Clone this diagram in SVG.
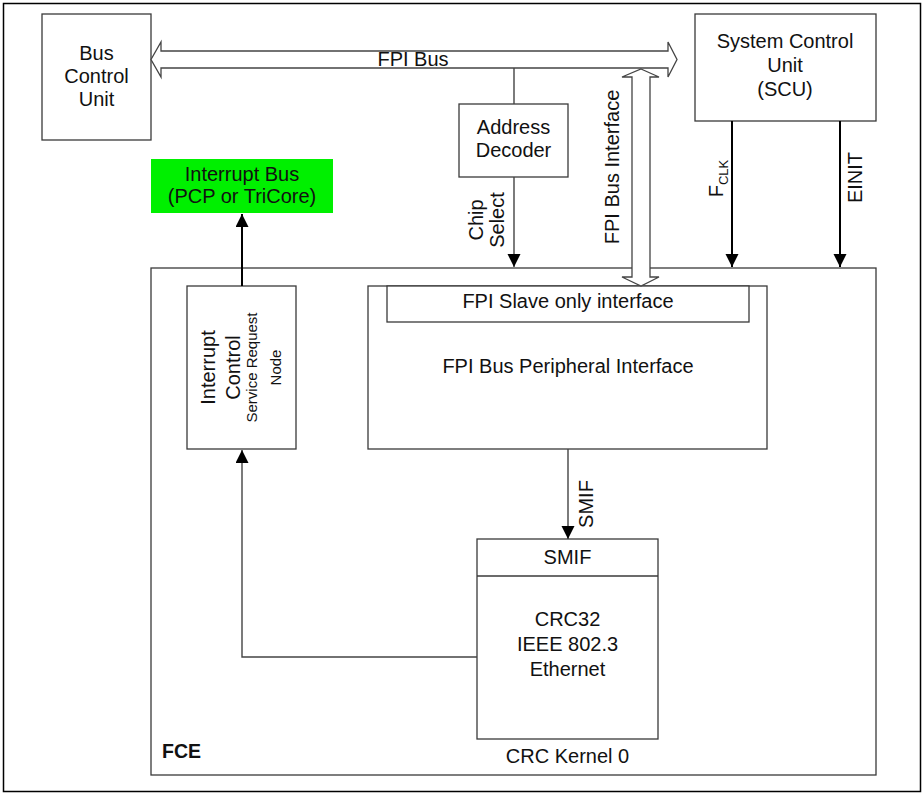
<svg xmlns="http://www.w3.org/2000/svg" width="924" height="795" viewBox="0 0 924 795">
<style>
  text { font-family: "Liberation Sans", Arial, sans-serif; font-size: 20px; fill: #111; }
  .mid { text-anchor: middle; }
  .small { font-size: 15px; }
  .box { fill: #fff; stroke: #3a3a3a; stroke-width: 1.3; }
  .wire { fill: none; stroke: #444; stroke-width: 1.4; }
  .sig { fill: none; stroke: #000; stroke-width: 2; }
  .bus { fill: #fff; stroke: #444; stroke-width: 1.3; stroke-linejoin: miter; }
</style>
<defs>
  <marker id="ah" markerUnits="userSpaceOnUse" markerWidth="14" markerHeight="14" refX="13" refY="6.5" orient="auto">
    <path d="M0,0 L13,6.5 L0,13 z" fill="#000"/>
  </marker>
</defs>
<rect x="3.5" y="3.5" width="917" height="788" fill="#fff" stroke="#000" stroke-width="1.5"/>

<g id="fce">
  <rect class="box" x="151" y="268" width="725" height="507"/>
  <text x="162" y="758" style="font-weight:bold;font-size:19.5px">FCE</text>
</g>

<g id="bcu">
  <rect class="box" x="42" y="14" width="109" height="126"/>
  <text class="mid" x="96.5" y="60">Bus</text>
  <text class="mid" x="96.5" y="83">Control</text>
  <text class="mid" x="96.5" y="106">Unit</text>
</g>

<g id="scu">
  <rect class="box" x="695" y="14" width="181" height="107"/>
  <text class="mid" x="785" y="48">System Control</text>
  <text class="mid" x="785" y="72">Unit</text>
  <text class="mid" x="785" y="96">(SCU)</text>
</g>

<g id="addr">
  <rect class="box" x="459" y="104" width="109" height="73"/>
  <text class="mid" x="513.5" y="134">Address</text>
  <text class="mid" x="513.5" y="157">Decoder</text>
</g>

<g id="intbus">
  <rect x="151" y="159" width="182" height="54" fill="#00f000"/>
  <text class="mid" x="242" y="181">Interrupt Bus</text>
  <text class="mid" x="242" y="203">(PCP or TriCore)</text>
</g>

<g id="intctrl">
  <rect class="box" x="187" y="286" width="109" height="163"/>
  <text class="mid" transform="translate(215,367.5) rotate(-90)">Interrupt</text>
  <text class="mid" transform="translate(240,367.5) rotate(-90)">Control</text>
  <text class="mid small" transform="translate(257,367.5) rotate(-90)">Service Request</text>
  <text class="mid small" transform="translate(281,367.5) rotate(-90)">Node</text>
</g>

<g id="fpiperiph">
  <rect class="box" x="368" y="286" width="399" height="163"/>
  <rect class="box" x="387" y="286" width="362" height="36"/>
  <text class="mid" x="568" y="308">FPI Slave only interface</text>
  <text class="mid" x="568" y="373">FPI Bus Peripheral Interface</text>
</g>

<g id="crc">
  <rect class="box" x="477" y="539" width="181" height="200"/>
  <line x1="477" y1="576" x2="658" y2="576" stroke="#3a3a3a" stroke-width="1.3"/>
  <text class="mid" x="567.5" y="564">SMIF</text>
  <text class="mid" x="567.5" y="626">CRC32</text>
  <text class="mid" x="567.5" y="651">IEEE 802.3</text>
  <text class="mid" x="567.5" y="676">Ethernet</text>
  <text class="mid" x="567.5" y="763">CRC Kernel 0</text>
</g>

<g id="connectors">
  <path class="bus" d="M151,59.5 L161,42 L161,51 L668,51 L668,42 L677,59.5 L668,77 L668,68 L161,68 L161,77 Z"/>
  <text class="mid" x="413" y="66">FPI Bus</text>

  <path class="bus" d="M641,69 L659,77 L650,77 L650,277 L659,277 L641,286 L622,277 L632,277 L632,77 L622,77 Z"/>
  <text class="mid" transform="translate(619,167) rotate(-90)">FPI Bus Interface</text>

  <line class="wire" x1="514" y1="68" x2="514" y2="104"/>
  <line class="wire" x1="514" y1="177" x2="514" y2="267" marker-end="url(#ah)"/>
  <text class="mid" transform="translate(483,220) rotate(-90)">Chip</text>
  <text class="mid" transform="translate(504,220) rotate(-90)">Select</text>

  <line class="sig" x1="732" y1="121" x2="732" y2="267" marker-end="url(#ah)"/>
  <text class="mid" transform="translate(723,178.5) rotate(-90)">F<tspan style="font-size:13px" dy="5">CLK</tspan></text>

  <line class="sig" x1="840" y1="121" x2="840" y2="267" marker-end="url(#ah)"/>
  <text class="mid" transform="translate(862,177.5) rotate(-90)">EINIT</text>

  <line class="wire" x1="568" y1="449" x2="568" y2="539" marker-end="url(#ah)"/>
  <text class="mid" transform="translate(593,504) rotate(-90)">SMIF</text>

  <polyline class="wire" points="477,657 242,657 242,450" marker-end="url(#ah)"/>
  <line class="sig" x1="242" y1="286" x2="242" y2="214" stroke-width="1.6" marker-end="url(#ah)"/>
</g>
</svg>
